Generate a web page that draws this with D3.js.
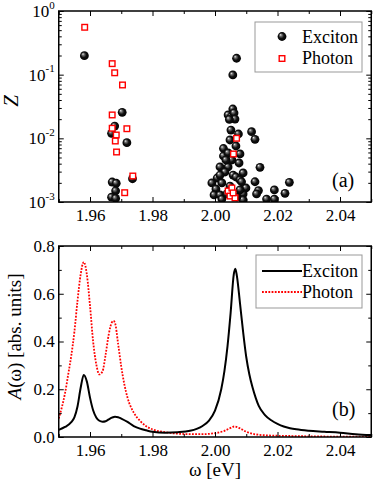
<!DOCTYPE html>
<html>
<head>
<meta charset="utf-8">
<script src="https://cdn.jsdelivr.net/npm/d3@7"></script>
<style>
  body { margin: 0; background: #fff; }
  svg text { font-family: 'Liberation Serif', 'Times New Roman', serif; }
</style>
</head>
<body>
<script>
// panel (a): residues Z of the poles
const excOmega = [1.9582, 1.9703, 1.9679, 1.9669, 1.9718, 1.9671, 1.9684, 1.9736, 1.9682, 1.9669, 1.9682,
  2.0069, 2.0057, 2.0057, 2.0042, 2.0051, 2.0061, 2.0064, 2.0046, 2.0075, 2.0117, 2.0128, 2.0048, 2.0067,
  2.0027, 2.0027, 2.0080, 2.0042, 2.0054, 2.0042, 2.0077, 2.0016, 2.0032, 2.0058, 2.0090, 2.0007, 2.0022,
  2.0067, 2.0080, 1.9990, 2.0003, 2.0099, 2.0085, 1.9997, 2.0016, 2.0090, 2.0090, 2.0022, 2.0070, 2.0144,
  2.0128, 2.0238, 2.0139, 2.0133, 2.0190, 2.0224, 2.0165, 2.0190, 2.0051, 2.0035, 2.0016, 2.0048, 2.0038, 2.0080];
const excZ = [0.199, 0.0256, 0.0156, 0.012, 0.00855, 0.00206, 0.00197, 0.00232, 0.0015, 0.00119, 0.00114,
  0.181, 0.0989, 0.0289, 0.0233, 0.0216, 0.025, 0.0201, 0.0198, 0.0117, 0.0127, 0.00966, 0.00942, 0.00758,
  0.00692, 0.00528, 0.00568, 0.00589, 0.00457, 0.00355, 0.0041, 0.00355, 0.00296, 0.00265, 0.00286, 0.00238, 0.00199,
  0.00247, 0.00222, 0.00199, 0.0016, 0.00166, 0.00208, 0.00129, 0.00129, 0.00134, 0.00108, 0.00111, 0.0012, 0.00351,
  0.00208, 0.00204, 0.00151, 0.00134, 0.00155, 0.00137, 0.00111, 0.00111, 0.0135, 0.00457, 0.00265, 0.00178, 0.00134, 0.00155];

const phoOmega = [1.9583, 1.9671, 1.9679, 1.9704, 1.9671, 1.9671, 1.9684, 1.9718, 1.9681, 1.9685, 1.9737, 1.9711,
  2.0069, 2.0059, 2.0042, 2.0054, 2.0048, 2.0064, 2.0058];
const phoZ = [0.555, 0.149, 0.107, 0.0689, 0.0233, 0.0144, 0.01128, 0.01416, 0.00908, 0.0061, 0.00256, 0.0014,
  0.01002, 0.00568, 0.00149, 0.00166, 0.00124, 0.00116, 0.00139];

// panel (b): spectral function A(omega)
const specExcOmega = [1.950, 1.952, 1.954, 1.955, 1.956, 1.957, 1.958, 1.959, 1.960, 1.961, 1.962, 1.963, 1.964,
  1.965, 1.966, 1.967, 1.968, 1.969, 1.970, 1.972, 1.974, 1.976, 1.978, 1.980, 1.984, 1.988, 1.992, 1.996, 1.998,
  2.000, 2.002, 2.003, 2.004, 2.005, 2.006, 2.0065, 2.007, 2.008, 2.009, 2.010, 2.011, 2.012, 2.013, 2.014, 2.016,
  2.018, 2.020, 2.022, 2.024, 2.026, 2.030, 2.035, 2.040, 2.045, 2.050];
const specExcA = [0.030, 0.042, 0.062, 0.082, 0.128, 0.205, 0.260, 0.232, 0.165, 0.112, 0.082, 0.068, 0.064,
  0.066, 0.074, 0.081, 0.085, 0.083, 0.077, 0.063, 0.046, 0.035, 0.028, 0.022, 0.018, 0.020, 0.026, 0.046, 0.068,
  0.110, 0.200, 0.275, 0.380, 0.520, 0.680, 0.705, 0.675, 0.560, 0.440, 0.335, 0.262, 0.208, 0.165, 0.130, 0.092,
  0.070, 0.055, 0.044, 0.037, 0.032, 0.026, 0.022, 0.018, 0.012, 0.008];

const specPhoOmega = [1.950, 1.951, 1.952, 1.953, 1.954, 1.955, 1.956, 1.957, 1.958, 1.959, 1.960, 1.961, 1.962,
  1.963, 1.964, 1.965, 1.966, 1.967, 1.9675, 1.968, 1.969, 1.970, 1.971, 1.972, 1.974, 1.976, 1.978, 1.980, 1.984,
  1.988, 1.992, 1.996, 2.000, 2.003, 2.005, 2.0062, 2.008, 2.010, 2.013, 2.018, 2.025, 2.035, 2.050];
const specPhoA = [0.078, 0.125, 0.183, 0.260, 0.340, 0.440, 0.570, 0.680, 0.733, 0.680, 0.550, 0.400, 0.305,
  0.262, 0.275, 0.345, 0.430, 0.480, 0.486, 0.478, 0.390, 0.295, 0.220, 0.165, 0.102, 0.068, 0.045, 0.032, 0.020,
  0.014, 0.012, 0.012, 0.016, 0.026, 0.038, 0.044, 0.036, 0.022, 0.011, 0.006, 0.004, 0.002, 0.001];

const xTicks = [1.96, 1.98, 2.00, 2.02, 2.04];
const xMinor = [1.95, 1.97, 1.99, 2.01, 2.03, 2.05];
const zTicks = [1e-3, 1e-2, 1e-1, 1];
const aTicks = [0, 0.2, 0.4, 0.6, 0.8];
const aMinor = [0.1, 0.3, 0.5, 0.7];

const W = 374, H = 486;
const left = 58.75, right = 371.25;
const topA = 11, botA = 202, topB = 246, botB = 437;
const fs = 17;

const svg = d3.select('body').append('svg')
    .attr('width', W).attr('height', H);

const defs = svg.append('defs');
const grad = defs.append('radialGradient')
    .attr('id', 'ball').attr('cx', '50%').attr('cy', '50%').attr('r', '55%')
    .attr('fx', '32%').attr('fy', '30%');
grad.append('stop').attr('offset', '0%').attr('stop-color', '#f4f4f4');
grad.append('stop').attr('offset', '22%').attr('stop-color', '#777');
grad.append('stop').attr('offset', '55%').attr('stop-color', '#111');
grad.append('stop').attr('offset', '100%').attr('stop-color', '#000');

const x = d3.scaleLinear().domain([1.95, 2.05]).range([left, right]);
const yZ = d3.scaleLog().domain([1e-3, 1]).range([botA, topA]);
const yA = d3.scaleLinear().domain([0, 0.8]).range([botB, topB]);

// clip paths for each panel
defs.append('clipPath').attr('id', 'clipA').append('rect')
    .attr('x', left).attr('y', topA).attr('width', right - left).attr('height', botA - topA);
defs.append('clipPath').attr('id', 'clipB').append('rect')
    .attr('x', left).attr('y', topB).attr('width', right - left).attr('height', botB - topB);

function frame(yScale, y0, y1, majorY, minorY, labelFn) {
    const g = svg.append('g');
    // bottom
    g.append('g').attr('transform', `translate(0,${y0})`)
        .call(d3.axisBottom(x).tickValues(xTicks).tickSizeInner(-5).tickSizeOuter(0).tickPadding(7)
            .tickFormat(d3.format('.2f')));
    g.append('g').attr('transform', `translate(0,${y0})`)
        .call(d3.axisBottom(x).tickValues(xMinor).tickSizeInner(-3).tickSizeOuter(0).tickFormat(''));
    // top
    g.append('g').attr('transform', `translate(0,${y1})`)
        .call(d3.axisTop(x).tickValues(xTicks).tickSizeInner(-5).tickSizeOuter(0).tickFormat(''));
    g.append('g').attr('transform', `translate(0,${y1})`)
        .call(d3.axisTop(x).tickValues(xMinor).tickSizeInner(-3).tickSizeOuter(0).tickFormat(''));
    // left
    const la = g.append('g').attr('transform', `translate(${left},0)`)
        .call(d3.axisLeft(yScale).tickValues(majorY).tickSizeInner(-5).tickSizeOuter(0).tickPadding(4)
            .tickFormat(labelFn ? '' : d3.format('.1f')));
    g.append('g').attr('transform', `translate(${left},0)`)
        .call(d3.axisLeft(yScale).tickValues(minorY).tickSizeInner(-3).tickSizeOuter(0).tickFormat(''));
    // right
    g.append('g').attr('transform', `translate(${right},0)`)
        .call(d3.axisRight(yScale).tickValues(majorY).tickSizeInner(-5).tickSizeOuter(0).tickFormat(''));
    g.append('g').attr('transform', `translate(${right},0)`)
        .call(d3.axisRight(yScale).tickValues(minorY).tickSizeInner(-3).tickSizeOuter(0).tickFormat(''));
    if (labelFn) la.selectAll('.tick text').each(labelFn);

    g.selectAll('.domain').remove();
    g.selectAll('line').attr('stroke', '#000').attr('stroke-width', 1);
    g.selectAll('text').attr('font-size', fs).attr('fill', '#000');
    g.selectAll('tspan.sup').attr('font-size', 11);
    g.append('rect')
        .attr('x', left).attr('y', y1).attr('width', right - left).attr('height', y0 - y1)
        .attr('fill', 'none').attr('stroke', '#000').attr('stroke-width', 1.5);
}

// ---------- panel (a)
const gA = svg.append('g').attr('clip-path', 'url(#clipA)');
gA.selectAll('circle.exc')
    .data(excOmega.map((w, i) => [w, excZ[i]]))
    .enter().append('circle')
    .attr('class', 'exc')
    .attr('cx', d => x(d[0]))
    .attr('cy', d => yZ(d[1]))
    .attr('r', 4.4)
    .attr('fill', 'url(#ball)');
gA.selectAll('rect.pho')
    .data(phoOmega.map((w, i) => [w, phoZ[i]]))
    .enter().append('rect')
    .attr('class', 'pho')
    .attr('x', d => x(d[0]) - 2.8)
    .attr('y', d => yZ(d[1]) - 2.8)
    .attr('width', 5.6).attr('height', 5.6)
    .attr('fill', '#fff').attr('stroke', '#ff0000').attr('stroke-width', 1.4);

const minorZ = yZ.ticks().filter(d => !zTicks.some(t => Math.abs(t - d) < 1e-12));
frame(yZ, botA, topA, zTicks, minorZ, function (d) {
    const t = d3.select(this).text(null).attr('dy', '0.32em');
    t.append('tspan').text('10');
    t.append('tspan').attr('class', 'sup').text(Math.round(Math.log10(d)))
        .attr('dy', '-0.75em');
});

// legend (a)
svg.append('rect').attr('x', 255).attr('y', 22).attr('width', 107).attr('height', 50)
    .attr('fill', '#fff').attr('stroke', '#999').attr('stroke-width', 1);
svg.append('circle').attr('cx', 282).attr('cy', 36.5).attr('r', 4.4).attr('fill', 'url(#ball)');
svg.append('rect').attr('x', 279.2).attr('y', 55.7).attr('width', 5.6).attr('height', 5.6)
    .attr('fill', '#fff').attr('stroke', '#ff0000').attr('stroke-width', 1.4);
svg.append('text').attr('x', 302).attr('y', 43).attr('font-size', 18).text('Exciton');
svg.append('text').attr('x', 302).attr('y', 64).attr('font-size', 18).text('Photon');
svg.append('text').attr('x', 332).attr('y', 187).attr('font-size', 20).text('(a)');

svg.append('text')
    .attr('transform', 'translate(18,101) rotate(-90)')
    .attr('text-anchor', 'middle')
    .attr('font-size', 21).attr('font-style', 'italic')
    .text('Z');

// ---------- panel (b)
const line = d3.line().curve(d3.curveMonotoneX)
    .x(d => x(d[0])).y(d => yA(d[1]));
const gB = svg.append('g').attr('clip-path', 'url(#clipB)');
gB.append('path')
    .datum(specPhoOmega.map((w, i) => [w, specPhoA[i]]))
    .attr('d', line)
    .attr('fill', 'none').attr('stroke', '#ff0000').attr('stroke-width', 1.8)
    .attr('stroke-dasharray', '1.8,1.4');
gB.append('path')
    .datum(specExcOmega.map((w, i) => [w, specExcA[i]]))
    .attr('d', line)
    .attr('fill', 'none').attr('stroke', '#000').attr('stroke-width', 2);

frame(yA, botB, topB, aTicks, aMinor, null);

// legend (b)
svg.append('rect').attr('x', 256).attr('y', 255).attr('width', 106).attr('height', 53)
    .attr('fill', '#fff').attr('stroke', '#999').attr('stroke-width', 1);
svg.append('line').attr('x1', 262).attr('x2', 302).attr('y1', 271).attr('y2', 271)
    .attr('stroke', '#000').attr('stroke-width', 2);
svg.append('line').attr('x1', 262).attr('x2', 302).attr('y1', 292).attr('y2', 292)
    .attr('stroke', '#ff0000').attr('stroke-width', 1.8).attr('stroke-dasharray', '1.8,1.4');
svg.append('text').attr('x', 302).attr('y', 277).attr('font-size', 18).text('Exciton');
svg.append('text').attr('x', 302).attr('y', 298).attr('font-size', 18).text('Photon');
svg.append('text').attr('x', 332).attr('y', 416).attr('font-size', 20).text('(b)');

const yl = svg.append('text')
    .attr('transform', `translate(21,${(topB + botB) / 2 - 5}) rotate(-90)`)
    .attr('text-anchor', 'middle')
    .attr('font-size', 19);
yl.append('tspan').attr('font-style', 'italic').text('A');
yl.append('tspan').text('(ω) [abs. units]');

svg.append('text')
    .attr('x', (left + right) / 2).attr('y', 476)
    .attr('text-anchor', 'middle')
    .attr('font-size', 19)
    .text('ω [eV]');
</script>
</body>
</html>
